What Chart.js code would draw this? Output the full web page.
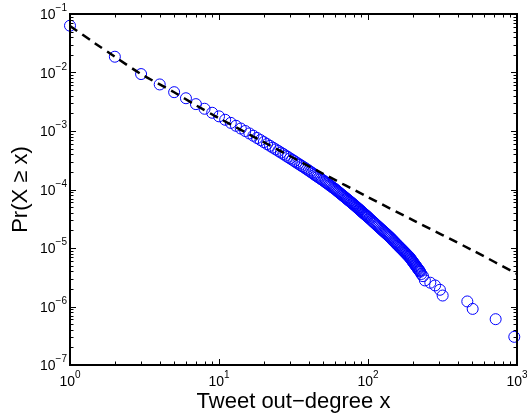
<!DOCTYPE html>
<html>
<head>
<meta charset="utf-8">
<script src="https://cdn.jsdelivr.net/npm/chart.js@4.4.1/dist/chart.umd.min.js"></script>
<style>
  html, body { margin: 0; padding: 0; background: #fff; }
</style>
</head>
<body>
<canvas id="myChart" width="527" height="415"></canvas>
<script>
let degree = [
  1, 2, 3, 4, 5, 6, 7, 8, 9, 10,
  11, 12, 13, 14, 15, 16, 17, 18, 19, 20,
  21, 22, 23, 24, 25, 26, 27, 28, 29, 30,
  31, 32, 33, 34, 35, 36, 37, 38, 39, 40,
  41, 42, 43, 44, 45, 46, 47, 48, 49, 50,
  51, 52, 53, 54, 55, 56, 57, 58, 59, 60,
  61, 62, 63, 64, 65, 66, 67, 68, 69, 70,
  71, 72, 73, 74, 75, 76, 77, 78, 79, 80,
  81, 82, 83, 84, 85, 86, 87, 88, 89, 90,
  91, 92, 93, 94, 95, 96, 97, 98, 99, 100,
  102, 104, 106, 108, 110, 112, 114, 116, 118, 120,
  122, 124, 126, 128, 130, 132, 134, 136, 138, 140,
  142, 144, 146, 148, 150, 152, 154, 156, 158, 160,
  162, 164, 166, 168, 170, 172, 174, 176, 178, 180,
  182, 184, 186, 188, 190, 192, 194, 196, 198, 200,
  202, 204, 206, 208, 210, 212, 214, 216, 218, 220,
  222, 224, 228, 234, 241, 262, 282, 304, 317, 464,
  504, 719, 959
];
let ccdf = [
  0.0631, 0.0186, 0.0094, 0.00625, 0.00461, 0.00363, 0.00288, 0.00240, 0.00205, 0.00178,
  0.001556, 0.001377, 0.001227, 0.001102, 0.00100, 9.08e-4, 8.30e-4, 7.60e-4, 7.00e-4, 6.46e-4,
  5.98e-4, 5.57e-4, 5.19e-4, 4.86e-4, 4.56e-4, 4.28e-4, 4.04e-4, 3.80e-4, 3.60e-4, 3.40e-4,
  3.23e-4, 3.06e-4, 2.90e-4, 2.77e-4, 2.64e-4, 2.52e-4, 2.41e-4, 2.30e-4, 2.20e-4, 2.11e-4,
  2.02e-4, 1.94e-4, 1.86e-4, 1.78e-4, 1.71e-4, 1.65e-4, 1.59e-4, 1.53e-4, 1.48e-4, 1.43e-4,
  1.37e-4, 1.33e-4, 1.28e-4, 1.24e-4, 1.19e-4, 1.16e-4, 1.12e-4, 1.08e-4, 1.05e-4, 1.02e-4,
  9.82e-5, 9.48e-5, 9.18e-5, 8.87e-5, 8.59e-5, 8.32e-5, 8.05e-5, 7.82e-5, 7.59e-5, 7.36e-5,
  7.13e-5, 6.93e-5, 6.73e-5, 6.55e-5, 6.37e-5, 6.19e-5, 6.03e-5, 5.86e-5, 5.70e-5, 5.56e-5,
  5.41e-5, 5.26e-5, 5.12e-5, 4.98e-5, 4.85e-5, 4.72e-5, 4.60e-5, 4.49e-5, 4.38e-5, 4.27e-5,
  4.16e-5, 4.06e-5, 3.96e-5, 3.86e-5, 3.78e-5, 3.69e-5, 3.61e-5, 3.52e-5, 3.44e-5, 3.37e-5,
  3.21e-5, 3.08e-5, 2.94e-5, 2.82e-5, 2.70e-5, 2.59e-5, 2.48e-5, 2.38e-5, 2.29e-5, 2.20e-5,
  2.12e-5, 2.04e-5, 1.97e-5, 1.90e-5, 1.83e-5, 1.77e-5, 1.71e-5, 1.65e-5, 1.59e-5, 1.54e-5,
  1.49e-5, 1.43e-5, 1.38e-5, 1.33e-5, 1.29e-5, 1.24e-5, 1.20e-5, 1.16e-5, 1.12e-5, 1.09e-5,
  1.05e-5, 1.02e-5, 9.91e-6, 9.59e-6, 9.31e-6, 9.04e-6, 8.77e-6, 8.51e-6, 8.26e-6, 8.02e-6,
  7.80e-6, 7.57e-6, 7.36e-6, 7.16e-6, 6.97e-6, 6.71e-6, 6.47e-6, 6.25e-6, 6.03e-6, 5.82e-6,
  5.62e-6, 5.43e-6, 5.25e-6, 5.07e-6, 4.91e-6, 4.75e-6, 4.59e-6, 4.45e-6, 4.31e-6, 4.17e-6,
  4.04e-6, 3.92e-6, 3.6e-6, 3.3e-6, 2.79e-6, 2.55e-6, 2.29e-6, 1.93e-6, 1.54e-6, 1.22e-6,
  9.1e-7, 6.07e-7, 3.03e-7
];

// dashed power-law fit
let fitX = [1, 1.5, 2, 3, 5, 7, 10, 20, 50, 100, 200, 500, 1000];
let fitY = [0.0624, 0.0305, 0.0186, 0.0094, 0.0046, 0.00275, 0.00166, 6.43e-4, 1.86e-4, 7.41e-5, 3.0e-5, 9.2e-6, 3.6e-6];

let xExps = ['0', '1', '2', '3'];
let yExps = ['\u22127', '\u22126', '\u22125', '\u22124', '\u22123', '\u22122', '\u22121'];

const FONT = '"Liberation Sans", Arial, Helvetica, sans-serif';

// MATLAB-like box with inward ticks and 10^n labels
const matlabAxes = {
  id: 'matlabAxes',
  afterDraw(chart) {
    const c = chart.ctx;
    const a = chart.chartArea;
    const xs = chart.scales.x, ys = chart.scales.y;
    c.save();
    c.strokeStyle = '#000';
    c.lineWidth = 1;
    // x ticks (bottom + top)
    for (let d = 0; d < 3; d++) {
      for (let m = 1; m <= 9; m++) {
        const px = Math.round(xs.getPixelForValue(m * Math.pow(10, d))) + 0.5;
        const len = m === 1 ? 6 : 3.5;
        c.beginPath();
        c.moveTo(px, a.bottom); c.lineTo(px, a.bottom - len);
        c.moveTo(px, a.top); c.lineTo(px, a.top + len);
        c.stroke();
      }
    }
    // y ticks (left + right)
    for (let d = -7; d < -1; d++) {
      for (let m = 1; m <= 9; m++) {
        const py = Math.round(ys.getPixelForValue(m * Math.pow(10, d))) + 0.5;
        const len = m === 1 ? 6 : 3.5;
        c.beginPath();
        c.moveTo(a.left, py); c.lineTo(a.left + len, py);
        c.moveTo(a.right, py); c.lineTo(a.right - len, py);
        c.stroke();
      }
    }
    // box
    c.lineWidth = 2;
    c.strokeRect(a.left, a.top, a.right - a.left, a.bottom - a.top);

    // tick labels
    c.fillStyle = '#000';
    c.textBaseline = 'alphabetic';
    c.textAlign = 'left';
    xExps.forEach((e, i) => {
      const px = xs.getPixelForValue(Math.pow(10, i));
      c.font = '14px ' + FONT;
      const w1 = c.measureText('10').width;
      c.font = '10px ' + FONT;
      const w2 = c.measureText(e).width;
      const x0 = px - (w1 + w2) / 2;
      c.font = '14px ' + FONT;
      c.fillText('10', x0, a.bottom + 21);
      c.font = '10px ' + FONT;
      c.fillText(e, x0 + w1, a.bottom + 13);
    });
    yExps.forEach((e, i) => {
      const py = ys.getPixelForValue(Math.pow(10, i - 7));
      c.font = '10px ' + FONT;
      const w2 = c.measureText(e).width;
      const right = a.left - 3;
      c.fillText(e, right - w2, py - 3);
      c.font = '14px ' + FONT;
      const w1 = c.measureText('10').width;
      c.fillText('10', right - w2 - w1, py + 5);
    });

    // axis titles
    c.font = '22px ' + FONT;
    c.textAlign = 'center';
    c.fillText('Tweet out\u2212degree x', (a.left + a.right) / 2, 408);
    c.save();
    c.translate(27, (a.top + a.bottom) / 2);
    c.rotate(-Math.PI / 2);
    c.fillText('Pr(X \u2265 x)', 0, 0);
    c.restore();
    c.restore();
  }
};

let ctx = document.getElementById('myChart');
let myChart = new Chart(ctx, {
  type: 'scatter',
  data: {
    datasets: [{
      label: 'fit',
      data: fitX.map((x, i) => ({ x: x, y: fitY[i] })),
      showLine: true,
      borderColor: '#000',
      borderWidth: 2.5,
      borderDash: [9, 6],
      pointRadius: 0,
      tension: 0.3,
      clip: false
    }, {
      label: 'data',
      data: degree.map((x, i) => ({ x: x, y: ccdf[i] })),
      showLine: false,
      pointStyle: 'circle',
      pointRadius: 5.5,
      borderWidth: 1,
      borderColor: 'rgb(0,0,255)',
      backgroundColor: 'rgba(0,0,0,0)',
      clip: false
    }]
  },
  options: {
    responsive: false,
    animation: false,
    layout: { padding: { left: 70, right: 10, top: 14, bottom: 50 } },
    plugins: { legend: { display: false }, tooltip: { enabled: false } },
    scales: {
      x: { type: 'logarithmic', min: 1, max: 1000, display: false },
      y: { type: 'logarithmic', min: 1e-7, max: 1e-1, display: false }
    }
  },
  plugins: [matlabAxes]
});
</script>
</body>
</html>
